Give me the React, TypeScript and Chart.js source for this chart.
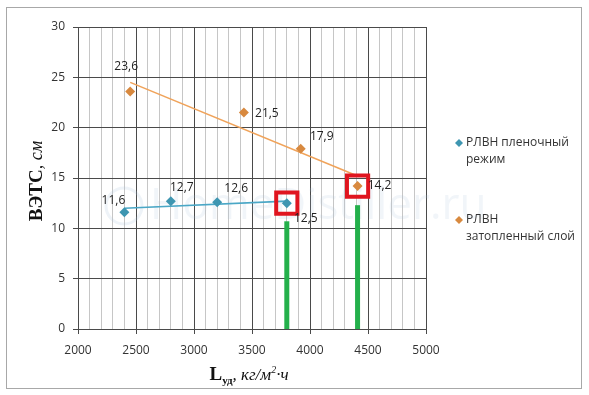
import React, { useEffect, useRef } from "react";
import { Chart, registerables } from "chart.js";

Chart.register(...registerables);

// ---- data ----
const seriesNames = ["РЛВН пленочный режим", "РЛВН затопленный слой"];
const filmX = [2400, 2800, 3200, 3800];
const filmY = [11.6, 12.7, 12.6, 12.5];
const floodX = [2450, 3430, 3920, 4410];
const floodY = [23.6, 21.5, 17.9, 14.2];
const filmTrendX = [2400, 3800];
const filmTrendY = [12.0, 12.7];
const floodTrendX = [2450, 4410];
const floodTrendY = [24.5, 15.2];
const markerX = [3800, 4410];
const markerTop = [10.7, 12.3];
const highlightX = [3800, 4410];
const highlightY = [12.5, 14.2];
const xMin = 2000;
const xMax = 5000;
const yMin = 0;
const yMax = 30;

const FILM = "#3e96b1";
const FLOOD = "#d8893f";
const FILM_LINE = "#4aa7c6";
const FLOOD_LINE = "#f0a35a";
const GRID = "#4a4a4a";
const MINOR = "#c6c6c6";
const TXT = "#333333";
const SANS = "'Open Sans', 'Noto Sans', sans-serif";
const SERIF = "'Liberation Serif', 'DejaVu Serif', serif";

const fmt = (v: number) => v.toFixed(1).replace(".", ",");
const pts = (xs: number[], ys: number[]) => xs.map((x, i) => ({ x, y: ys[i] }));

// label offsets (pixels) for the value labels
const filmOffsets = [[-11, -12], [11, -14], [19, -14], [19, 15]];
const floodOffsets = [[-4, -25], [23, 1], [21, -12], [22, 0]];

const decorPlugin = {
  id: "decor",
  beforeDatasetsDraw(chart: any) {
    const { ctx } = chart;
    ctx.save();
    ctx.fillStyle = "rgba(170,195,220,0.16)";
    ctx.font = `44px ${SANS}`;
    ctx.textBaseline = "middle";
    ctx.textAlign = "left";
    ctx.fillText("HomeDistiller.ru", 150, 206);
    ctx.strokeStyle = "rgba(170,195,220,0.2)";
    ctx.lineWidth = 3;
    ctx.beginPath();
    ctx.arc(124, 206, 18, 0, Math.PI * 2);
    ctx.stroke();
    ctx.restore();
  },
  afterDraw(chart: any) {
    const { ctx } = chart;
    const xs = chart.scales.x;
    const ys = chart.scales.y;
    ctx.save();
    // frame
    ctx.strokeStyle = "#a8a8a8";
    ctx.lineWidth = 1;
    ctx.strokeRect(6.5, 7.5, 575, 381);

    // value labels
    ctx.fillStyle = "#222";
    ctx.font = `12px ${SANS}`;
    ctx.textAlign = "center";
    ctx.textBaseline = "middle";
    filmX.forEach((x, i) => {
      ctx.fillText(fmt(filmY[i]), xs.getPixelForValue(x) + filmOffsets[i][0], ys.getPixelForValue(filmY[i]) + filmOffsets[i][1]);
    });
    floodX.forEach((x, i) => {
      ctx.fillText(fmt(floodY[i]), xs.getPixelForValue(x) + floodOffsets[i][0], ys.getPixelForValue(floodY[i]) + floodOffsets[i][1]);
    });

    // legend
    const diamond = (cx: number, cy: number, r: number, c: string) => {
      ctx.fillStyle = c;
      ctx.beginPath();
      ctx.moveTo(cx, cy - r);
      ctx.lineTo(cx + r, cy);
      ctx.lineTo(cx, cy + r);
      ctx.lineTo(cx - r, cy);
      ctx.closePath();
      ctx.fill();
    };
    ctx.textAlign = "left";
    ctx.font = `12px ${SANS}`;
    diamond(459, 143, 4, FILM);
    ctx.fillStyle = TXT;
    ctx.fillText("РЛВН пленочный", 466, 143);
    ctx.fillText("режим", 466, 160);
    diamond(459, 220, 4, FLOOD);
    ctx.fillStyle = TXT;
    ctx.fillText("РЛВН", 466, 220);
    ctx.fillText("затопленный слой", 466, 237);

    // y title
    ctx.save();
    ctx.translate(37, 181);
    ctx.rotate(-Math.PI / 2);
    ctx.fillStyle = "#111";
    ctx.textBaseline = "middle";
    const f1 = `bold 19px ${SERIF}`;
    const f2 = `italic 18px ${SERIF}`;
    ctx.font = f1;
    const w1 = ctx.measureText("ВЭТС").width;
    ctx.font = f2;
    const w2 = ctx.measureText(", см").width;
    const sx = -(w1 + w2) / 2;
    ctx.font = f1;
    ctx.fillText("ВЭТС", sx, 0);
    ctx.font = f2;
    ctx.fillText(", см", sx + w1, 0);
    ctx.restore();

    // x title
    const segs: [string, string, number][] = [
      ["L", `bold 19px ${SERIF}`, 0],
      ["уд", `bold 11px ${SERIF}`, 4],
      [", кг/м", `italic 17px ${SERIF}`, 0],
      ["2", `italic 10px ${SERIF}`, -7],
      ["·ч", `italic 17px ${SERIF}`, 0],
    ];
    ctx.textBaseline = "alphabetic";
    let tot = 0;
    segs.forEach(([t, f]) => { ctx.font = f; tot += ctx.measureText(t).width; });
    let px = 249 - tot / 2;
    ctx.fillStyle = "#111";
    segs.forEach(([t, f, dy]) => {
      ctx.font = f;
      ctx.fillText(t, px, 380 + dy);
      px += ctx.measureText(t).width;
    });
    ctx.restore();
  },
};

export default function App() {
  const ref = useRef<HTMLCanvasElement | null>(null);
  useEffect(() => {
    if (!ref.current) return;
    const chart = new Chart(ref.current, {
      type: "scatter",
      data: {
        datasets: [
          {
            label: "highlight",
            data: pts(highlightX, highlightY),
            pointStyle: "rect",
            pointRadius: 15,
            pointBorderWidth: 4,
            pointBorderColor: "#e0151f",
            pointBackgroundColor: "rgba(0,0,0,0)",
            showLine: false,
            order: 0,
          },
          {
            label: seriesNames[0],
            data: pts(filmX, filmY),
            pointStyle: "rectRot",
            pointRadius: 5,
            pointBorderWidth: 0,
            pointBackgroundColor: FILM,
            pointBorderColor: FILM,
            showLine: false,
            order: 1,
          },
          {
            label: seriesNames[1],
            data: pts(floodX, floodY),
            pointStyle: "rectRot",
            pointRadius: 5,
            pointBorderWidth: 0,
            pointBackgroundColor: FLOOD,
            pointBorderColor: FLOOD,
            showLine: false,
            order: 1,
          },
          {
            label: "trend1",
            data: pts(filmTrendX, filmTrendY),
            showLine: true,
            pointRadius: 0,
            borderColor: FILM_LINE,
            borderWidth: 1.6,
            order: 2,
          },
          {
            label: "trend2",
            data: pts(floodTrendX, floodTrendY),
            showLine: true,
            pointRadius: 0,
            borderColor: FLOOD_LINE,
            borderWidth: 1.6,
            order: 2,
          },
          ...markerX.map((x, i) => ({
            label: "marker" + i,
            data: [{ x, y: 0 }, { x, y: markerTop[i] }],
            showLine: true,
            pointRadius: 0,
            borderColor: "#24b04b",
            borderWidth: 5,
            borderCapStyle: "butt" as const,
            order: 3,
          })),
        ],
      },
      options: {
        responsive: false,
        animation: false,
        events: [],
        layout: { padding: { top: 27, right: 163, left: 0, bottom: 0 } },
        plugins: { legend: { display: false }, tooltip: { enabled: false } },
        scales: {
          x: {
            type: "linear",
            min: xMin,
            max: xMax,
            afterFit: (s: any) => { s.height = 66; },
            ticks: {
              stepSize: 100,
              autoSkip: false,
              maxRotation: 0,
              padding: 9,
              color: TXT,
              font: { family: SANS, size: 12 },
              callback: (v: any) => (Number(v) % 500 === 0 ? String(v) : ""),
            },
            grid: {
              color: (c: any) => (c.tick && c.tick.value % 500 === 0 ? GRID : MINOR),
              tickColor: (c: any) => (c.tick && c.tick.value % 500 === 0 ? GRID : "rgba(0,0,0,0)"),
              tickLength: 5,
              lineWidth: 1,
            },
            border: { color: GRID },
          },
          y: {
            min: yMin,
            max: yMax,
            afterFit: (s: any) => { s.width = 78; },
            ticks: {
              stepSize: 5,
              padding: 8,
              color: TXT,
              font: { family: SANS, size: 12 },
            },
            grid: { color: GRID, tickColor: GRID, tickLength: 5 },
            border: { color: GRID },
          },
        },
      },
      plugins: [decorPlugin],
    });
    return () => chart.destroy();
  }, []);
  return (
    <div style={{ position: "fixed", left: 0, top: 0, width: 589, height: 395, background: "#fff" }}>
      <canvas ref={ref} width={589} height={395} style={{ display: "block" }} />
    </div>
  );
}
